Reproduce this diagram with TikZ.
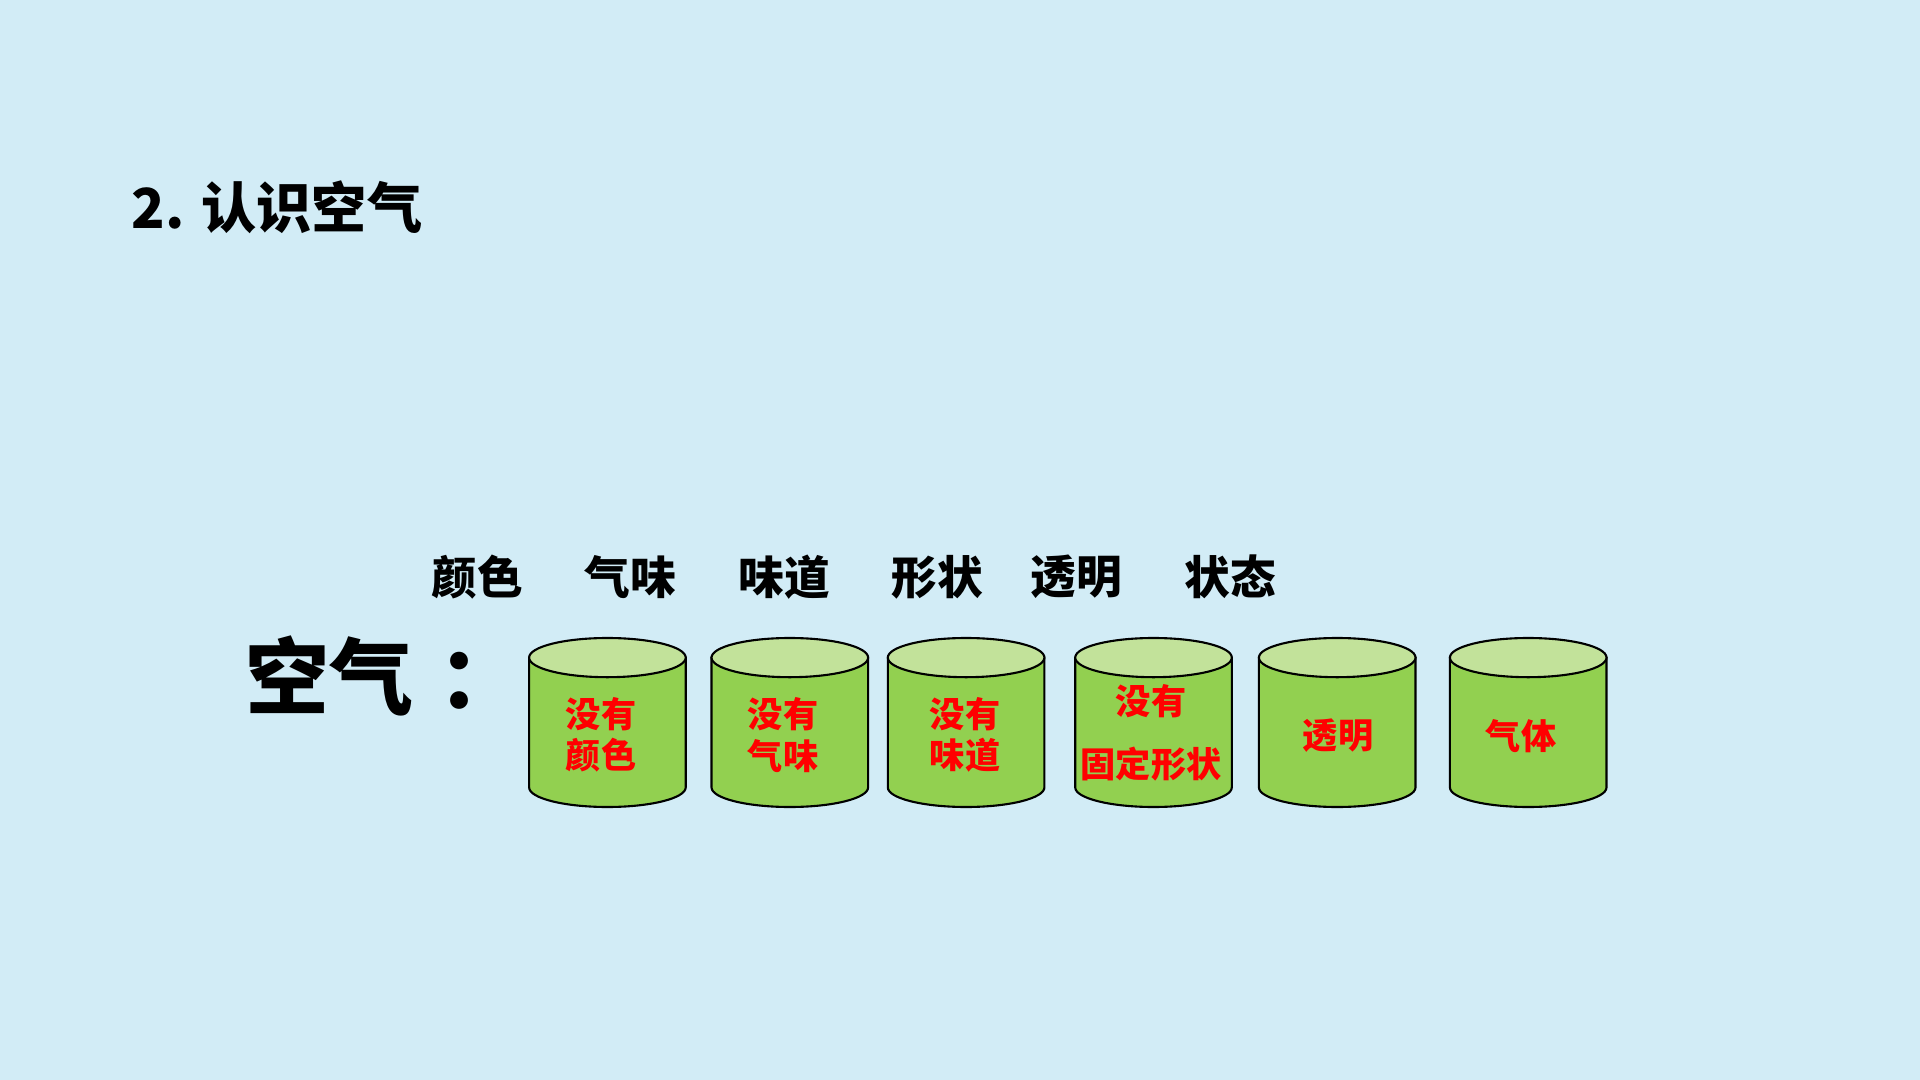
\documentclass[tikz,border=0pt]{standalone}
\usepackage{fontspec}
\setmainfont{Noto Sans CJK SC}
\usetikzlibrary{positioning}
\definecolor{bgblue}{HTML}{D2ECF6}
\definecolor{bodygreen}{HTML}{92D050}
\definecolor{topgreen}{HTML}{C2E29A}
\definecolor{tagred}{HTML}{FF0000}

\begin{document}
\begin{tikzpicture}
					\tikzstyle{heading}=[anchor=west,inner sep=0pt,font=\fontsize{15.7}{18}\selectfont\bfseries]
					\tikzstyle{prop}=[inner sep=0pt,font=\fontsize{13}{15}\selectfont\bfseries]
					\tikzstyle{tag}=[inner sep=0pt,align=center,text=tagred,font=\fontsize{10}{11.8}\selectfont\bfseries]
					\tikzstyle{can}=[draw=black,line width=0.6pt]
					\fill[bgblue] (0,0) rectangle (19.2,-10.8);
					\useasboundingbox (0,0) rectangle (19.2,-10.8);
					\node (title) [heading] at (1.31,-2.07) {2. 认识空气};
					\node (air) [heading,font=\fontsize{23.9}{26}\selectfont\bfseries] at (2.45,-6.76) {空气\kern0.3em：};
					% property names
					\node (color) [prop] at (4.77,-5.77) {颜色};
					\node (smell) [prop] at (6.30,-5.77) {气味};
					\node (taste) [prop] at (7.84,-5.77) {味道};
					\node (shape) [prop] at (9.37,-5.77) {形状};
					\node (clear) [prop] at (10.76,-5.77) {透明};
					\node (state) [prop] at (12.30,-5.77) {状态};
					% cylinders
					\foreach \cx in {6.074,7.898,9.661,11.535,13.372,15.282}{
						\filldraw[can,fill=bodygreen] (\cx-0.783,-6.576) -- (\cx-0.783,-7.874) arc[start angle=180,end angle=360,x radius=0.783,y radius=0.196] -- (\cx+0.783,-6.576) -- cycle;
						\filldraw[can,fill=topgreen] (\cx,-6.576) ellipse[x radius=0.783,y radius=0.196];
					}
					\node (nocolor) [tag] at (6.01,-7.35) {没有\\颜色};
					\node (nosmell) [tag] at (7.83,-7.35) {没有\\气味};
					\node (notaste) [tag] at (9.65,-7.35) {没有\\味道};
					\node (noshape) [tag] at (11.51,-7.33) {没有\\[6pt]固定形状};
					\node (isclear) [tag] at (13.38,-7.36) {透明};
					\node (isgas) [tag] at (15.21,-7.36) {气体};
				\end{tikzpicture}
\end{document}
